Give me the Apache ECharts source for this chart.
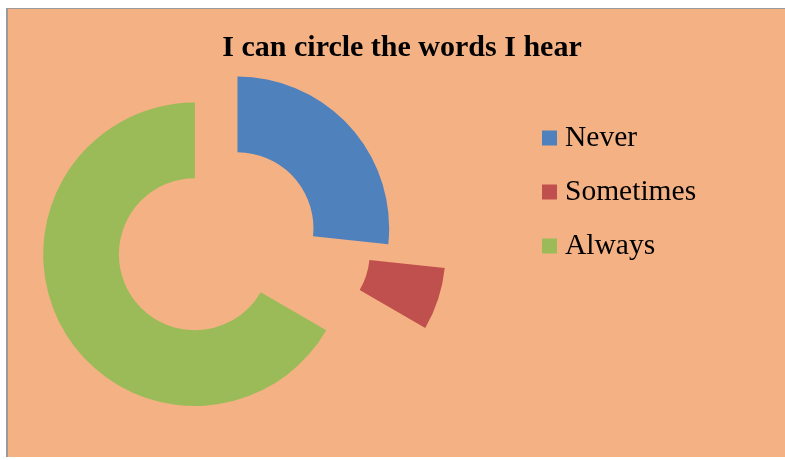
<!DOCTYPE html>
<html>
<head>
<meta charset="utf-8">
<script src="https://cdn.jsdelivr.net/npm/echarts@6/dist/echarts.min.js"></script>
<style>
html,body{margin:0;padding:0;background:#fff;}
#chart{position:absolute;left:0;top:0;width:785px;height:460px;}
</style>
</head>
<body>
<div id="chart"></div>
<script>
const titleText = 'I can circle the words I hear';
const categories = ['Never', 'Sometimes', 'Always'];
const values = [8, 2, 20];
const colors = ['#4F81BD', '#C0504D', '#9BBB59'];
const explodePx = [6, 64, 44];

const pieCenter = [233, 232.3];
const radii = [76, 151.7];
const font = "'Liberation Serif', 'Times New Roman', serif";

const total = values.reduce((a, b) => a + b, 0);
const series = categories.map((name, i) => {
  const before = values.slice(0, i).reduce((a, b) => a + b, 0);
  const after = total - before - values[i];
  const mid = (before + values[i] / 2) / total * Math.PI * 2;
  const off = explodePx[i];
  const pad = { itemStyle: { color: 'rgba(0,0,0,0)', borderWidth: 0 } };
  return {
    type: 'pie',
    silent: true,
    startAngle: 90,
    clockwise: true,
    radius: radii,
    center: [pieCenter[0] + off * Math.sin(mid), pieCenter[1] - off * Math.cos(mid)],
    label: { show: false },
    labelLine: { show: false },
    emphasis: { disabled: true },
    animation: false,
    itemStyle: { borderWidth: 0 },
    data: [
      Object.assign({ name: '_a' + i, value: before }, pad),
      { name: name, value: values[i], itemStyle: { color: colors[i], borderWidth: 0 } },
      Object.assign({ name: '_b' + i, value: after }, pad)
    ]
  };
});

const chart = echarts.init(document.getElementById('chart'), null, { renderer: 'canvas' });
chart.setOption({
  backgroundColor: '#ffffff',
  animation: false,
  graphic: [
    { type: 'rect', z: -10, silent: true, shape: { x: 7, y: 8, width: 778, height: 449 }, style: { fill: '#F4B183' } },
    { type: 'line', z: -9, silent: true, shape: { x1: 7, y1: 8.5, x2: 785, y2: 8.5 }, style: { stroke: '#9a9a9a', lineWidth: 1 } },
    { type: 'line', z: -9, silent: true, shape: { x1: 7, y1: 8, x2: 7, y2: 457 }, style: { stroke: '#9a9a9a', lineWidth: 2 } }
  ],
  title: {
    text: titleText,
    left: 397,
    top: 28,
    textAlign: 'center',
    textStyle: { fontFamily: font, fontSize: 30, fontWeight: 'bold', color: '#000' }
  },
  legend: {
    data: categories,
    orient: 'vertical',
    left: 542,
    top: 123,
    padding: 0,
    itemWidth: 15,
    itemHeight: 15,
    itemGap: 24,
    icon: 'rect',
    selectedMode: false,
    textStyle: { fontFamily: font, fontSize: 29.5, color: '#000', padding: [0, 0, 0, 3] }
  },
  series: series
});
</script>
</body>
</html>
